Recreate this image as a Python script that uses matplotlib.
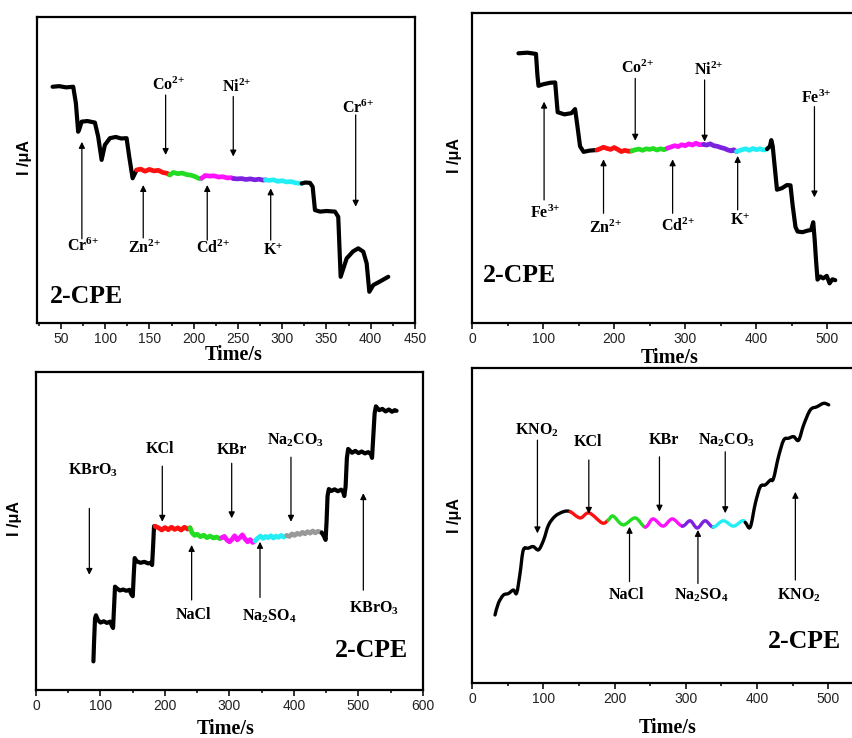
import numpy as np
import matplotlib.pyplot as plt
from matplotlib.path import Path
from matplotlib.patches import PathPatch
from matplotlib.ticker import MultipleLocator

plt.rcParams['font.family'] = 'Liberation Sans'
plt.rcParams['mathtext.fontset'] = 'custom'
plt.rcParams['mathtext.rm'] = 'Liberation Serif:bold'
plt.rcParams['mathtext.it'] = 'Liberation Serif:bold'
plt.rcParams['mathtext.bf'] = 'Liberation Serif:bold'

# ---------------- data (current in arbitrary units, 0-100) ----------------
# panel 1: Cr6+
t1 = [40.6, 48, 56, 63.9, 66.9, 69.5, 71, 73.4, 80, 88.4,
      92.1, 96, 99.7, 105.4, 112, 118, 124.2, 127.2, 131, 135.5,
      140, 145, 150, 155, 160, 165, 170, 173,
      177, 182, 187, 192, 197, 202, 206, 209,
      213, 218, 223, 228, 233, 238, 242, 245,
      249, 254, 259, 264, 269, 274, 278, 281,
      285, 290, 295, 300, 305, 310, 315, 322,
      326, 331.4, 334.4, 337, 342.7, 350, 359.6, 363.3, 366, 372.8,
      380, 385.9, 391.6, 395.4, 398.4, 402.9, 410, 419.8]
i1 = [77.2, 77.4, 77.0, 77.2, 71.9, 62.5, 63.5, 65.8, 66.0, 65.5,
      60.9, 53.3, 58.2, 60.4, 60.8, 60.3, 60.4, 54.3, 47.3, 50.0,
      50.3, 49.6, 50.2, 49.7, 49.9, 49.2, 48.9, 48.4,
      49.2, 48.8, 49.0, 48.5, 48.3, 47.8, 47.2, 47.3,
      48.2, 48.0, 48.1, 47.7, 47.8, 47.4, 47.5, 47.2,
      47.1, 47.2, 46.9, 47.1, 46.8, 47.0, 46.7, 46.8,
      46.6, 46.8, 46.3, 46.5, 46.1, 46.2, 45.8, 45.6,
      45.9, 45.8, 44.5, 36.9, 36.4, 36.6, 36.4, 34.7, 15.1, 21.1,
      23.4, 24.4, 23.3, 19.5, 10.2, 12.4, 13.5, 15.1]
edges1 = [40.6, 135.5, 173, 209, 245, 281, 322, 419.8]

# panel 2: Fe3+
t2 = [65.3, 78, 90, 92, 93.5, 100, 110, 117, 119, 120.5,
      130, 140, 145, 148, 152, 157, 165, 175.6,
      180, 185, 190, 195, 200, 205, 210, 215, 220, 225,
      230, 235, 240, 245, 250, 255, 260, 265, 270, 275,
      280, 285, 290, 295, 300, 305, 310, 315, 320, 326,
      330, 335, 340, 345, 350, 355, 360, 365, 368, 372,
      376, 380, 385, 390, 395, 400, 405, 410, 415,
      419, 421, 423, 426, 429, 436, 443, 448, 451, 455,
      458, 465, 472, 477, 480, 482, 484, 486, 490, 494,
      499, 503, 507, 511]
i2 = [87.0, 87.2, 86.8, 80.0, 76.5, 77.0, 77.5, 77.6, 72.0, 68.0,
      67.3, 67.7, 69.0, 64.0, 57.0, 55.2, 55.6, 55.8,
      56.2, 56.7, 56.3, 56.0, 56.6, 56.0, 55.3, 55.7, 55.4, 55.5,
      55.9, 56.1, 55.7, 56.2, 56.0, 56.3, 55.8, 56.2, 55.9, 56.4,
      56.8, 57.2, 56.9, 57.5, 57.2, 57.8, 57.4, 58.0, 57.5, 57.6,
      57.4, 57.8, 57.2, 57.0, 56.6, 56.3, 55.8, 55.5, 55.9, 55.3,
      55.6, 55.9, 56.2, 55.7, 56.3, 55.9, 56.2, 55.8, 56.1,
      57.0, 59.0, 57.0, 50.0, 43.0, 43.5, 44.5, 44.4, 38.0, 31.0,
      29.5, 29.3, 29.8, 30.0, 32.5, 27.0, 20.0, 14.0, 15.0, 14.4,
      15.2, 12.8, 14.1, 13.8]
edges2 = [65.3, 175.6, 225, 275, 326, 372, 415, 511]

# panel 3: KBrO3
t3 = [89, 90, 91.5, 93, 96, 100, 105, 110, 115, 118,
      119.5, 121, 122.5, 125, 130, 135, 140, 145, 148, 150,
      151.5, 153, 156, 162, 168, 174, 178, 180, 181.5, 183, 184.5,
      190, 195, 200, 205, 210, 215, 220, 225, 230, 235, 238.8,
      242, 246, 250, 255, 260, 265, 270, 275, 280, 285, 288,
      292, 296, 300, 304, 308, 312, 316, 320, 324, 328, 332, 336, 339.5,
      344, 348, 352, 356, 360, 364, 368, 372, 376, 380, 384, 388.7,
      393, 397, 401, 405, 409, 413, 417, 421, 425, 429, 433, 437, 443,
      446, 449, 450.5, 452, 454, 458, 463, 468, 473, 476,
      478, 480, 482, 484, 490, 495, 500, 505, 510, 515,
      519, 521, 523, 525, 527, 532, 537, 542, 547, 552, 556, 559]
i3 = [9.0, 15.0, 22.5, 23.5, 22.0, 21.2, 21.6, 21.1, 21.5, 20.0,
      19.5, 26.0, 32.5, 32.0, 31.3, 31.6, 31.2, 31.5, 30.0, 29.5,
      36.0, 41.5, 40.5, 40.0, 40.3, 39.8, 40.0, 39.3, 45.0, 51.5, 51.5,
      51.0, 50.3, 51.1, 50.4, 51.2, 50.5, 51.0, 50.3, 51.2, 50.6, 51.0,
      49.4, 48.6, 49.0, 48.2, 48.7, 47.9, 48.4, 47.8, 48.1, 47.6, 47.9,
      48.3, 47.2, 46.6, 47.4, 48.5, 47.2, 47.9, 48.8, 47.5, 46.6, 47.3, 46.4, 46.9,
      47.8, 48.4, 47.7, 48.3, 47.9, 48.5, 47.8, 48.4, 48.0, 48.6, 48.1, 48.6,
      48.3, 49.1, 48.6, 49.3, 48.9, 49.6, 49.1, 49.8, 49.3, 50.0, 49.4, 49.9, 49.5,
      48.5, 47.2, 53.0, 61.0, 63.2, 62.6, 63.1, 62.5, 63.0, 62.4,
      61.0, 64.0, 73.0, 75.8, 74.6, 75.2, 74.5, 75.0, 74.4, 74.8,
      74.2, 73.0, 80.0, 87.0, 89.2, 88.0, 88.4, 87.6, 88.2, 87.5, 88.0, 87.8]
edges3 = [89, 184.5, 238.8, 288, 339.5, 388.7, 443, 559]

# panel 4: KNO2
t4 = [32.3, 37, 44, 51, 58, 62.7, 67.4, 72, 79, 86,
      93.4, 100.5, 107.5, 116.9, 128.6, 137.6,
      151.7, 164.3, 182.6, 191,
      198, 212, 229, 243,
      254, 268, 281, 295,
      306, 316, 327, 338.5,
      352.5, 366.6, 379, 383.4,
      390.4, 397.5, 404.5, 411.5, 418.5, 423, 430, 437.3, 444.3, 451.3,
      458.3, 465.3, 474.7, 484, 493.4, 500.5]
i4 = [21.6, 25.3, 27.9, 28.4, 29.5, 28.6, 34.8, 42.2, 42.8, 43.3,
      42.3, 45.4, 50.2, 53.0, 54.4, 54.4,
      52.4, 54.0, 50.8, 51.7,
      53.0, 50.2, 52.4, 49.5,
      52.1, 49.8, 52.1, 49.8,
      51.5, 49.2, 51.5, 49.5,
      51.5, 49.8, 51.5, 51.0,
      49.5, 57.0, 62.3, 62.9, 64.4, 64.9, 71.8, 77.1, 77.7, 78.2,
      77.1, 81.9, 86.7, 87.7, 88.8, 88.3]
edges4 = [32.3, 137.6, 191, 243, 295, 338.5, 383.4, 500.5]

RED, GRN, MAG, PUR, CYN, GRY = '#ff1010', '#22dd22', '#ff10ff', '#7a22e0', '#22eef5', '#999999'
colors1 = ['black', RED, GRN, MAG, PUR, CYN, 'black']
colors3 = ['black', RED, GRN, MAG, CYN, GRY, 'black']

# annotations: label, label x, label y, arrow x, arrow tail y, arrow head y
ann1_lab = ['Cr$^{6{+}}$', 'Zn$^{2{+}}$', 'Co$^{2{+}}$', 'Ni$^{2{+}}$', 'Cd$^{2{+}}$', 'K$^{{+}}$', 'Cr$^{6{+}}$']
ann1_lx = [75, 145, 171, 249, 222, 290, 386]
ann1_ly = [25, 24.4, 77.5, 77, 24.4, 23.6, 70.2]
ann1_ax = [73.7, 143, 168.3, 244.7, 215.3, 287, 383]
ann1_a0 = [27.5, 27.8, 74.5, 74, 27.1, 27.1, 68]
ann1_a1 = [59.2, 45.1, 54.9, 54.4, 45.1, 44, 38]

ann2_lab = ['Fe$^{3{+}}$', 'Zn$^{2{+}}$', 'Co$^{2{+}}$', 'Cd$^{2{+}}$', 'Ni$^{2{+}}$', 'K$^{{+}}$', 'Fe$^{3{+}}$']
ann2_lx = [102.8, 187.3, 232.9, 289.2, 332.9, 376.5, 484]
ann2_ly = [35.4, 30.5, 82.2, 31.3, 81.6, 33, 72.5]
ann2_ax = [101.4, 185, 229.6, 282.2, 327.2, 373.7, 481.7]
ann2_a0 = [39.7, 35.4, 78.9, 35.4, 78.4, 36.5, 69.8]
ann2_a1 = [71.4, 52.8, 58.8, 52.8, 58.5, 53.9, 40.5]

ann3_lab = ['KBrO$_3$', 'KCl', 'NaCl', 'KBr', 'Na$_2$SO$_4$', 'Na$_2$CO$_3$', 'KBrO$_3$']
ann3_lx = [87.9, 192.2, 243.9, 303.4, 361.7, 401.6, 524]
ann3_ly = [69.2, 75.7, 23.6, 75.5, 23.1, 78.4, 25.7]
ann3_ax = [82.7, 195.8, 241.3, 303.4, 347.3, 395.3, 507.5]
ann3_a0 = [57.1, 70.4, 28.3, 71.3, 29.1, 73.2, 31.4]
ann3_a1 = [36.2, 52.9, 45.6, 54, 46.6, 52.9, 61.9]

ann4_lab = ['KNO$_2$', 'KCl', 'NaCl', 'KBr', 'Na$_2$SO$_4$', 'Na$_2$CO$_3$', 'KNO$_2$']
ann4_lx = [90.8, 163.4, 216.3, 268.7, 321.2, 356.7, 458.3]
ann4_ly = [80.3, 76.6, 27.9, 77.1, 27.9, 77.1, 27.9]
ann4_ax = [91.8, 163.9, 221, 263, 317, 355.3, 453.7]
ann4_a0 = [77.1, 70.8, 32.2, 71.8, 31.6, 73.4, 32.7]
ann4_a1 = [47.5, 53.7, 49.6, 54.4, 48.6, 53.9, 60.7]


def seg_index(t, edges):
    t = np.asarray(t)
    return [int(np.argmin(np.abs(t - e))) for e in edges]


def draw_noisy(ax, t, y, edges, colors):
    t = np.asarray(t); y = np.asarray(y)
    idx = seg_index(t, edges)
    for k, c in enumerate(colors):
        a, b = idx[k], idx[k + 1]
        lw = 3.0 if c == 'black' else 3.4
        ax.plot(t[a:b + 1], y[a:b + 1], color=c, lw=lw,
                solid_joinstyle='round', solid_capstyle='round', zorder=3)


def draw_smooth(ax, t, y, edges, colors):
    pts = np.column_stack([t, y])
    n = len(pts)
    idx = seg_index(t, edges)
    for k, c in enumerate(colors):
        a, b = idx[k], idx[k + 1]
        verts = [pts[a]]
        codes = [Path.MOVETO]
        for i in range(a, b):
            p0 = pts[max(i - 1, 0)]; p1 = pts[i]
            p2 = pts[i + 1]; p3 = pts[min(i + 2, n - 1)]
            verts += [p1 + (p2 - p0) / 6, p2 - (p3 - p1) / 6, p2]
            codes += [Path.CURVE4] * 3
        ax.add_patch(PathPatch(Path(verts, codes), fill=False, edgecolor=c,
                               lw=2.4, capstyle='round', zorder=3))


def annotate(ax, labs, lx, ly, axx, a0, a1):
    for s, x, y, xa, y0, y1 in zip(labs, lx, ly, axx, a0, a1):
        ax.annotate('', xy=(xa, y1), xytext=(xa, y0),
                    arrowprops=dict(arrowstyle='-|>', color='black', lw=0.9,
                                    mutation_scale=9, shrinkA=0, shrinkB=0))
        ax.text(x, y, s, ha='center', va='center', fontsize=11.5,
                fontweight='bold', family='Liberation Serif')


def setup(ax, xlim, major, minor, xlab, ylab):
    ax.set_xlim(*xlim)
    ax.set_ylim(0, 100)
    ax.xaxis.set_major_locator(MultipleLocator(major))
    ax.xaxis.set_minor_locator(MultipleLocator(minor))
    ax.set_yticks([])
    ax.tick_params(axis='x', which='major', direction='out', length=4, width=1.3,
                   labelsize=10, pad=2.5, colors='#222222')
    ax.tick_params(axis='x', which='minor', direction='out', length=2.5, width=1.1)
    for s in ax.spines.values():
        s.set_linewidth(1.6)
    ax.set_xlabel('Time/s', fontsize=14.5, fontweight='bold', family='Liberation Serif')
    ax.xaxis.set_label_coords(*xlab)
    ax.set_ylabel('I /μA', fontsize=11.5, fontweight='bold')
    ax.yaxis.set_label_coords(*ylab)


fig = plt.figure(figsize=(8.53, 7.38), dpi=100)
W, H = 853, 738
ax1 = fig.add_axes([37 / W, (H - 323) / H, 378 / W, 306 / H])
ax2 = fig.add_axes([472 / W, (H - 323) / H, 391 / W, 310 / H])
ax3 = fig.add_axes([36 / W, (H - 690) / H, 387 / W, 318 / H])
ax4 = fig.add_axes([472 / W, (H - 683) / H, 392 / W, 315 / H])

setup(ax1, (23, 450), 50, 25, (0.52, -0.072), (-0.013, 0.54))
setup(ax2, (0, 550), 100, 50, (0.506, -0.081), (-0.026, 0.54))
setup(ax3, (0, 600), 100, 50, (0.49, -0.091), (-0.036, 0.54))
setup(ax4, (0, 550), 100, 50, (0.50, -0.111), (-0.026, 0.533))

draw_noisy(ax1, t1, i1, edges1, colors1)
draw_noisy(ax2, t2, i2, edges2, colors1)
draw_noisy(ax3, t3, i3, edges3, colors3)
draw_smooth(ax4, t4, i4, edges4, colors1)

annotate(ax1, ann1_lab, ann1_lx, ann1_ly, ann1_ax, ann1_a0, ann1_a1)
annotate(ax2, ann2_lab, ann2_lx, ann2_ly, ann2_ax, ann2_a0, ann2_a1)
annotate(ax3, ann3_lab, ann3_lx, ann3_ly, ann3_ax, ann3_a0, ann3_a1)
annotate(ax4, ann4_lab, ann4_lx, ann4_ly, ann4_ax, ann4_a0, ann4_a1)

cpe = dict(fontsize=18.5, fontweight='bold', family='Liberation Serif', va='center')
ax1.text(37.6, 8.8, '2-CPE', ha='left', **cpe)
ax2.text(16, 15.2, '2-CPE', ha='left', **cpe)
ax3.text(577.3, 12.4, '2-CPE', ha='right', **cpe)
ax4.text(517.8, 13.1, '2-CPE', ha='right', **cpe)

fig.savefig('out.png', dpi=100)
